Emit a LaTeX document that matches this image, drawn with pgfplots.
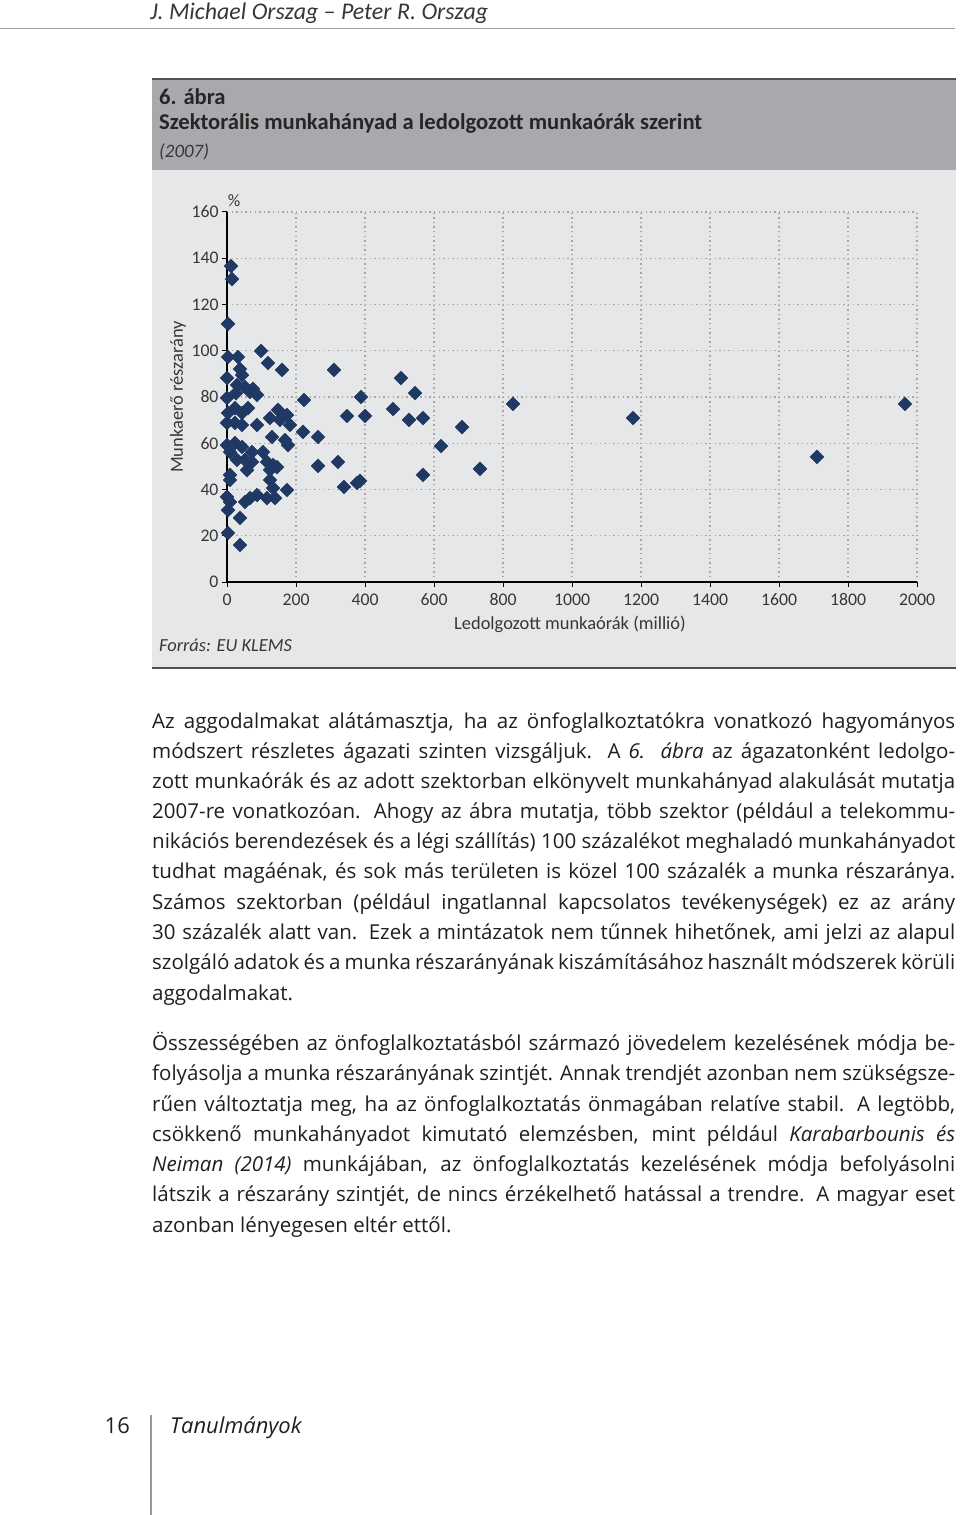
\documentclass[border=0pt]{standalone}
\usepackage{pgfplots}
\pgfplotsset{compat=1.18}
\usepackage{fontspec}
\setmainfont{Open Sans}
\newfontfamily\carlito{Carlito}
\definecolor{titlegray}{RGB}{167,169,172}
\definecolor{panel}{RGB}{230,231,232}
\definecolor{darkline}{RGB}{80,80,82}
\definecolor{navy}{RGB}{31,56,100}
\definecolor{lbl}{RGB}{55,55,55}
\definecolor{gridc}{RGB}{165,166,168}
\newcommand{\jl}[1]{\makebox[803bp][s]{#1}}
\begin{document}
\begin{tikzpicture}[x=1bp,y=1bp]
\path[use as bounding box] (0,0) rectangle (960,-1515);
\fill[white] (0,0) rectangle (960,-1515);
% header
\node[anchor=base west, inner sep=0, text=lbl, font=\carlito\itshape\fontsize{24}{28}\selectfont] at (150,-20) {J. Michael Orszag – Peter R. Orszag};
\draw[gray!75, line width=1.5bp] (0,-28.5) -- (955,-28.5);
% chart box
\fill[panel] (152,-170) rectangle (956,-668);
\fill[titlegray] (152,-79) rectangle (956,-170);
\draw[darkline, line width=2.5bp] (152,-79) -- (956,-79);
\draw[darkline, line width=2.5bp] (152,-668) -- (956,-668);
\node[anchor=base west, inner sep=0, text=black!85, font=\carlito\bfseries\fontsize{22.7}{26}\selectfont] at (159,-105) {6. ábra};
\node[anchor=base west, inner sep=0, text=black!85, font=\carlito\bfseries\fontsize{22.7}{26}\selectfont] at (159,-130) {Szektorális munkahányad a ledolgozott munkaórák szerint};
\node[anchor=base west, inner sep=0, text=lbl, font=\carlito\itshape\fontsize{19}{22}\selectfont] at (159,-157) {(2007)};
\coordinate (O) at (227,-582);
\begin{axis}[
  scale only axis, width=690bp, height=370bp,
  at={(O)}, anchor=south west,
  xmin=0, xmax=2000, ymin=0, ymax=160,
  xtick={0,200,...,2000}, ytick={0,20,...,160},
  axis lines=left, axis line style={-, line width=2.2bp, black},
  tick align=outside, major tick length=5bp,
  tick style={black, line width=1bp},
  grid=major, major grid style={gridc, line width=1.3bp, dash pattern=on 1.4bp off 3.2bp},
  tick label style={font=\carlito\fontsize{17.8}{20}\selectfont, text=lbl},
  xticklabel style={yshift=-3bp},
  /pgf/number format/assume math mode=true,
  /pgf/number format/set thousands separator={},
  clip=false,
]
\addplot[only marks, mark=square*, mark size=4.9bp, mark options={rotate=45, fill=navy, draw=navy}, color=navy] coordinates {
(11.6,136.6) (14.5,131.0) (2.9,111.6) (2.9,97.3) (31.9,97.3) (98.6,99.9) (118.8,94.7) (159.4,91.7) (310.1,91.7) (37.7,92.1)
(43.5,89.5) (0,88.2) (29.0,85.2) (52.2,84.3) (75.4,83.5) (87.0,80.9) (26.1,81.7) (0,79.6) (66.7,82.2) (223.2,78.7)
(388.4,80.0) (504.3,88.2) (545,81.7) (829,77.0) (1965,77.0)
(2.9,73.1) (23.2,75.2) (43.5,73.1) (60.9,75.2) (147.8,74.4) (173.9,72.2) (124.6,70.9) (153.6,70.1) (0,68.8) (23.2,68.8)
(43.5,67.9) (87.0,67.9) (182.6,67.9) (220.3,64.9) (263.8,62.7) (130.4,62.7) (168.1,61.4) (176.8,59.2) (347.8,71.8) (400,71.8)
(481.2,74.8) (527.5,70.1) (568.1,70.9) (1176.8,70.9) (681.2,67.0)
(0,59.2) (23.2,60.1) (43.5,58.4) (8.7,56.2) (72.5,56.2) (104.3,56.2) (29.0,52.8) (52.2,52.8) (72.5,51.9) (115.9,51.9)
(133.3,50.6) (144.9,49.7) (58.0,48.4) (263.8,50.2) (321.7,51.9) (620.3,58.8) (733.3,48.9) (1710.1,54.1) (8.7,46.3) (8.7,44.1)
(124.6,44.1) (133.3,40.6) (173.9,39.8) (568.1,46.3) (124.6,48.5)
(0,36.8) (8.7,34.6) (52.2,34.6) (66.7,36.3) (87.0,37.6) (115.9,36.3) (139.1,36.3) (339.1,41.1) (376.8,42.8) (385.5,43.7)
(2.9,31.1) (37.7,27.7) (2.9,21.2) (37.7,16.0)
};
\end{axis}
\node[text=lbl, inner sep=0, font=\carlito\fontsize{17.5}{20}\selectfont] at (234,-201) {\%};
\node[rotate=90, text=lbl, inner sep=0, font=\carlito\fontsize{18.5}{22}\selectfont] at (178,-397) {Munkaerő részarány};
\node[text=lbl, inner sep=0, font=\carlito\fontsize{18.5}{22}\selectfont] at (570,-624) {Ledolgozott munkaórák (millió)};
\node[anchor=west, text=lbl, inner sep=0, font=\carlito\itshape\fontsize{18.5}{22}\selectfont] at (159,-645) {Forrás: EU KLEMS};
% body text
\begin{scope}[every node/.style={anchor=base west, inner sep=0, text=black!88, font=\fontsize{20.6}{24}\selectfont}]
\node at (152,-728) {\jl{Az aggodalmakat alátámasztja, ha az önfoglalkoztatókra vonatkozó hagyományos}};
\node at (152,-758) {\jl{módszert részletes ágazati szinten vizsgáljuk. A \textit{6. ábra} az ágazatonként ledolgo-}};
\node at (152,-788) {\jl{zott munkaórák és az adott szektorban elkönyvelt munkahányad alakulását mutatja}};
\node at (152,-818) {\jl{2007-re vonatkozóan. Ahogy az ábra mutatja, több szektor (például a telekommu-}};
\node at (152,-848) {\jl{nikációs berendezések és a légi szállítás) 100 százalékot meghaladó munkahányadot}};
\node at (152,-878) {\jl{tudhat magáénak, és sok más területen is közel 100 százalék a munka részaránya.}};
\node at (152,-909) {\jl{Számos szektorban (például ingatlannal kapcsolatos tevékenységek) ez az arány}};
\node at (152,-939) {\jl{30 százalék alatt van. Ezek a mintázatok nem tűnnek hihetőnek, ami jelzi az alapul}};
\node at (152,-969) {\jl{szolgáló adatok és a munka részarányának kiszámításához használt módszerek körüli}};
\node at (152,-1000) {aggodalmakat.};
\node at (152,-1050) {\jl{Összességében az önfoglalkoztatásból származó jövedelem kezelésének módja be-}};
\node at (152,-1080) {\jl{folyásolja a munka részarányának szintjét. Annak trendjét azonban nem szükségsze-}};
\node at (152,-1111) {\jl{rűen változtatja meg, ha az önfoglalkoztatás önmagában relatíve stabil. A legtöbb,}};
\node at (152,-1141) {\jl{csökkenő munkahányadot kimutató elemzésben, mint például \textit{Karabarbounis és}}};
\node at (152,-1171) {\jl{\textit{Neiman (2014)} munkájában, az önfoglalkoztatás kezelésének módja befolyásolni}};
\node at (152,-1201) {\jl{látszik a részarány szintjét, de nincs érzékelhető hatással a trendre. A magyar eset}};
\node at (152,-1232) {azonban lényegesen eltér ettől.};
\end{scope}
% footer
\node[anchor=base east, inner sep=0, text=black!88, font=\fontsize{22}{26}\selectfont] at (130,-1433) {16};
\draw[gray!80, line width=1.3bp] (151,-1415) -- (151,-1515);
\node[anchor=base west, inner sep=0, text=black!88, font=\itshape\fontsize{22}{26}\selectfont] at (170,-1433) {Tanulmányok};
\end{tikzpicture}
\end{document}
